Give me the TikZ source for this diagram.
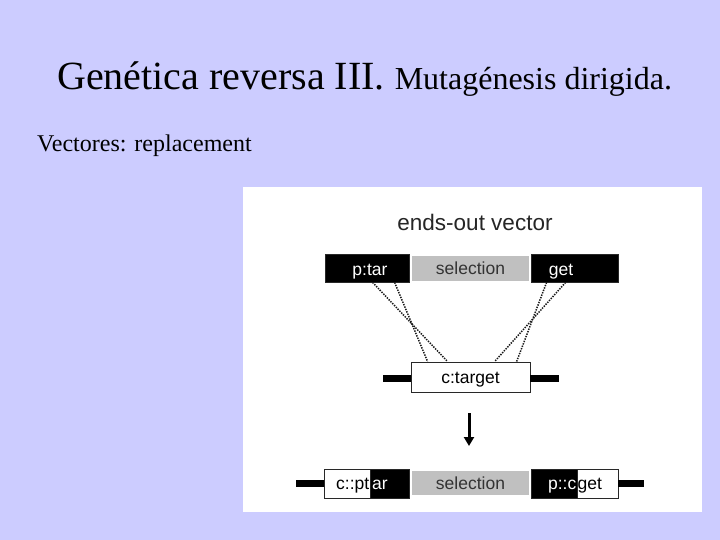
\documentclass[tikz,border=0pt]{standalone}
\usepackage{fontspec}
\setmainfont{Liberation Serif}
\newfontfamily\dsans{Liberation Sans}
\usetikzlibrary{calc,arrows.meta}
\definecolor{bglav}{RGB}{204,204,255}
\definecolor{selgray}{RGB}{192,192,192}
\definecolor{edgegray}{RGB}{40,40,40}
\begin{document}
\begin{tikzpicture}[x=1pt,y=-1pt,
  txt/.style={text height=12.5pt,text depth=0.5pt,font=\dsans\fontsize{17.5}{17.5}\selectfont},
  blackbox/.style={draw=edgegray,line width=0.8pt,fill=black,text=white,inner sep=0pt,txt},
  whitebox/.style={draw=edgegray,line width=0.8pt,fill=white,text=black,inner sep=0pt,txt},
  graybox/.style={draw=none,fill=selgray,text=black!80,inner sep=0pt,txt},
  lbl/.style={inner sep=0pt,txt},
  dotline/.style={draw=black!90,line width=1.5pt,dash pattern=on 1.4pt off 1.2pt},
  dnaline/.style={draw=black,line width=7pt}]
\useasboundingbox (0,0) rectangle (720,540);
\fill[bglav] (0,0) rectangle (720,540);
% titles
\node[anchor=base west,inner sep=0pt] (title) at (57,90) {\fontsize{40}{40}\selectfont Genética reversa III. \fontsize{32}{32}\selectfont Mutagénesis dirigida.};
\node[anchor=base west,inner sep=0pt] (sub) at (37,152) {\fontsize{24}{24}\selectfont Vectores: replacement};
% panel
\fill[white] (243,187) rectangle (702,512);
\node[inner sep=0pt,anchor=base,font=\dsans\fontsize{22.5}{22.5}\selectfont,text=black!85] (head) at (475,230) {ends-out vector};
% top row
\node[blackbox,minimum width=84pt,minimum height=28pt] (ptar) at (367,268) {};
\node[lbl,text=white] (ptartxt) at (370,269) {p:tar};
\node[graybox,minimum width=117pt,minimum height=25pt] (sel1) at (470.5,268.5) {selection};
\node[blackbox,minimum width=87pt,minimum height=28pt] (get) at (574.5,268) {};
\node[lbl,text=white] (gettxt) at (561,269) {get};
% target
\node[whitebox,minimum width=119pt,minimum height=30pt] (ctar) at (470.5,377) {c:target};
\coordinate (tl) at (383,378);
\coordinate (tr) at (559,378);
\draw[dnaline] (tl) -- (ctar.west |- tl);
\draw[dnaline] (ctar.east |- tr) -- (tr);
% dotted lines
\draw[dotline] ($(ptar.south west)+(48,0)$) -- ($(ctar.north west)+(37,0)$);
\draw[dotline] ($(ptar.south west)+(70,0)$) -- ($(ctar.north west)+(17,0)$);
\draw[dotline] ($(get.south west)+(16,0)$) -- ($(ctar.north west)+(106,0)$);
\draw[dotline] ($(get.south west)+(35,0)$) -- ($(ctar.north west)+(84,0)$);
% arrow
\coordinate (a1) at (469,413);
\coordinate (a2) at (469,446);
\draw[line width=3pt,-{Triangle[length=9pt,width=10pt]}] (a1) -- (a2);
% bottom row
\coordinate (bl) at (296,483);
\coordinate (br) at (644,483);
\node[whitebox,minimum width=46pt,minimum height=29pt] (cpw) at (347,483.5) {};
\node[blackbox,minimum width=39pt,minimum height=29pt] (cpb) at (389.5,483.5) {};
\node[lbl,anchor=east] (cpt) at (369.5,483.5) {c::pt};
\node[lbl,anchor=west,text=white] (cpar) at (372,483.5) {ar};
\node[graybox,minimum width=117pt,minimum height=24pt] (sel2) at (470.5,483) {selection};
\node[blackbox,minimum width=46pt,minimum height=29pt] (pcb) at (554,483.5) {};
\node[whitebox,minimum width=41pt,minimum height=29pt] (pcw) at (597.5,483.5) {};
\node[lbl,anchor=east,text=white] (pcc) at (576.5,483.5) {p::c};
\node[lbl,anchor=west] (pcg) at (577.5,483.5) {get};
\draw[dnaline] (bl) -- (cpw.west |- bl);
\draw[dnaline] (pcw.east |- br) -- (br);
\end{tikzpicture}
\end{document}
